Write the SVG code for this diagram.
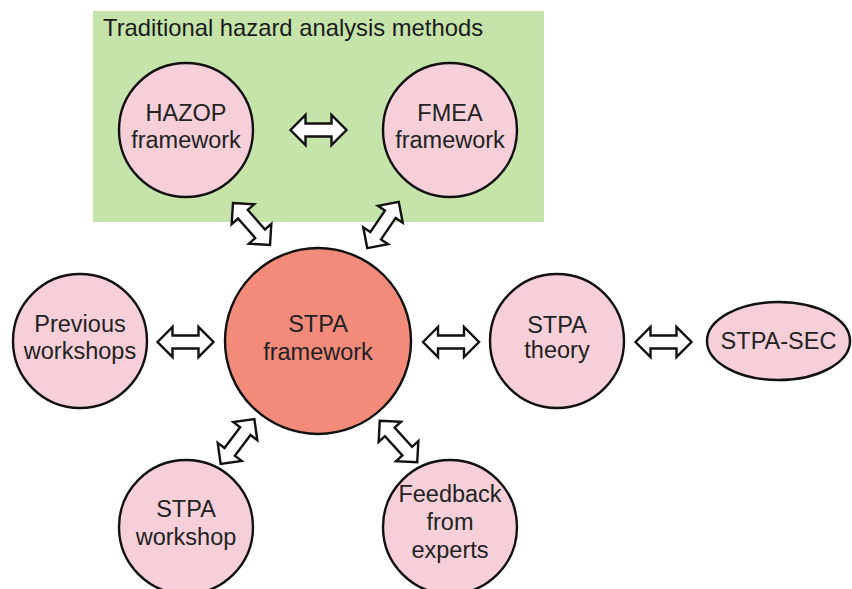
<svg xmlns="http://www.w3.org/2000/svg" width="852" height="589" viewBox="0 0 852 589">
  <defs>
    <style>
      .node { fill: #f6cfd9; stroke: #111; stroke-width: 2.4; }
      .core { fill: #f38b7b; stroke: #111; stroke-width: 2.4; }
      .lbl { font-family: "Liberation Sans", Arial, sans-serif; font-size: 23.5px; fill: #222; text-anchor: middle; }
      .title { font-family: "Liberation Sans", Arial, sans-serif; font-size: 23.8px; fill: #1a1a1a; }
      .arr { fill: #fff; stroke: #111; stroke-width: 2.4; stroke-linejoin: miter; }
    </style>
    <!-- double-headed block arrow centred on the origin, pointing along x -->
    <path id="dbl" d="M -28 0 L -13 -15 L -13 -6.5 L 13 -6.5 L 13 -15 L 28 0 L 13 15 L 13 6.5 L -13 6.5 L -13 15 Z"/>
  </defs>

  <rect width="852" height="589" fill="#fff"/>

  <!-- traditional methods group -->
  <g id="traditional">
    <rect x="93" y="11" width="451" height="211" fill="#c6e4a9"/>
    <text class="title" x="103" y="36">Traditional hazard analysis methods</text>
  </g>

  <g id="connectors">
    <use href="#dbl" class="arr" transform="translate(318.5 130)"/>
    <use href="#dbl" class="arr" transform="translate(251.5 224) rotate(48.6)"/>
    <use href="#dbl" class="arr" transform="translate(383 225) rotate(-55.7)"/>
    <use href="#dbl" class="arr" transform="translate(185.5 342)"/>
    <use href="#dbl" class="arr" transform="translate(451 342)"/>
    <use href="#dbl" class="arr" transform="translate(663.5 342)"/>
    <use href="#dbl" class="arr" transform="translate(237.5 441.5) rotate(-53)"/>
    <use href="#dbl" class="arr" transform="translate(398.5 441.5) rotate(48)"/>
  </g>

  <g id="hazop">
    <circle class="node" cx="186" cy="130" r="67"/>
    <text class="lbl" x="186" y="121">HAZOP</text>
    <text class="lbl" x="186" y="148">framework</text>
  </g>

  <g id="fmea">
    <circle class="node" cx="450" cy="130" r="67"/>
    <text class="lbl" x="450" y="121">FMEA</text>
    <text class="lbl" x="450" y="148">framework</text>
  </g>

  <g id="stpa-framework">
    <circle class="core" cx="318" cy="341" r="93"/>
    <text class="lbl" x="318" y="332">STPA</text>
    <text class="lbl" x="318" y="360">framework</text>
  </g>

  <g id="previous-workshops">
    <circle class="node" cx="80" cy="341" r="67"/>
    <text class="lbl" x="80" y="332">Previous</text>
    <text class="lbl" x="80" y="359">workshops</text>
  </g>

  <g id="stpa-theory">
    <circle class="node" cx="557" cy="341" r="67"/>
    <text class="lbl" x="557" y="333">STPA</text>
    <text class="lbl" x="557" y="358">theory</text>
  </g>

  <g id="stpa-sec">
    <ellipse class="node" cx="778.5" cy="341" rx="71.5" ry="39"/>
    <text class="lbl" x="778.5" y="349">STPA-SEC</text>
  </g>

  <g id="stpa-workshop">
    <circle class="node" cx="186" cy="527" r="67"/>
    <text class="lbl" x="186" y="517">STPA</text>
    <text class="lbl" x="186" y="545">workshop</text>
  </g>

  <g id="feedback">
    <circle class="node" cx="450" cy="527" r="67"/>
    <text class="lbl" x="450" y="502">Feedback</text>
    <text class="lbl" x="450" y="530">from</text>
    <text class="lbl" x="450" y="558">experts</text>
  </g>
</svg>
